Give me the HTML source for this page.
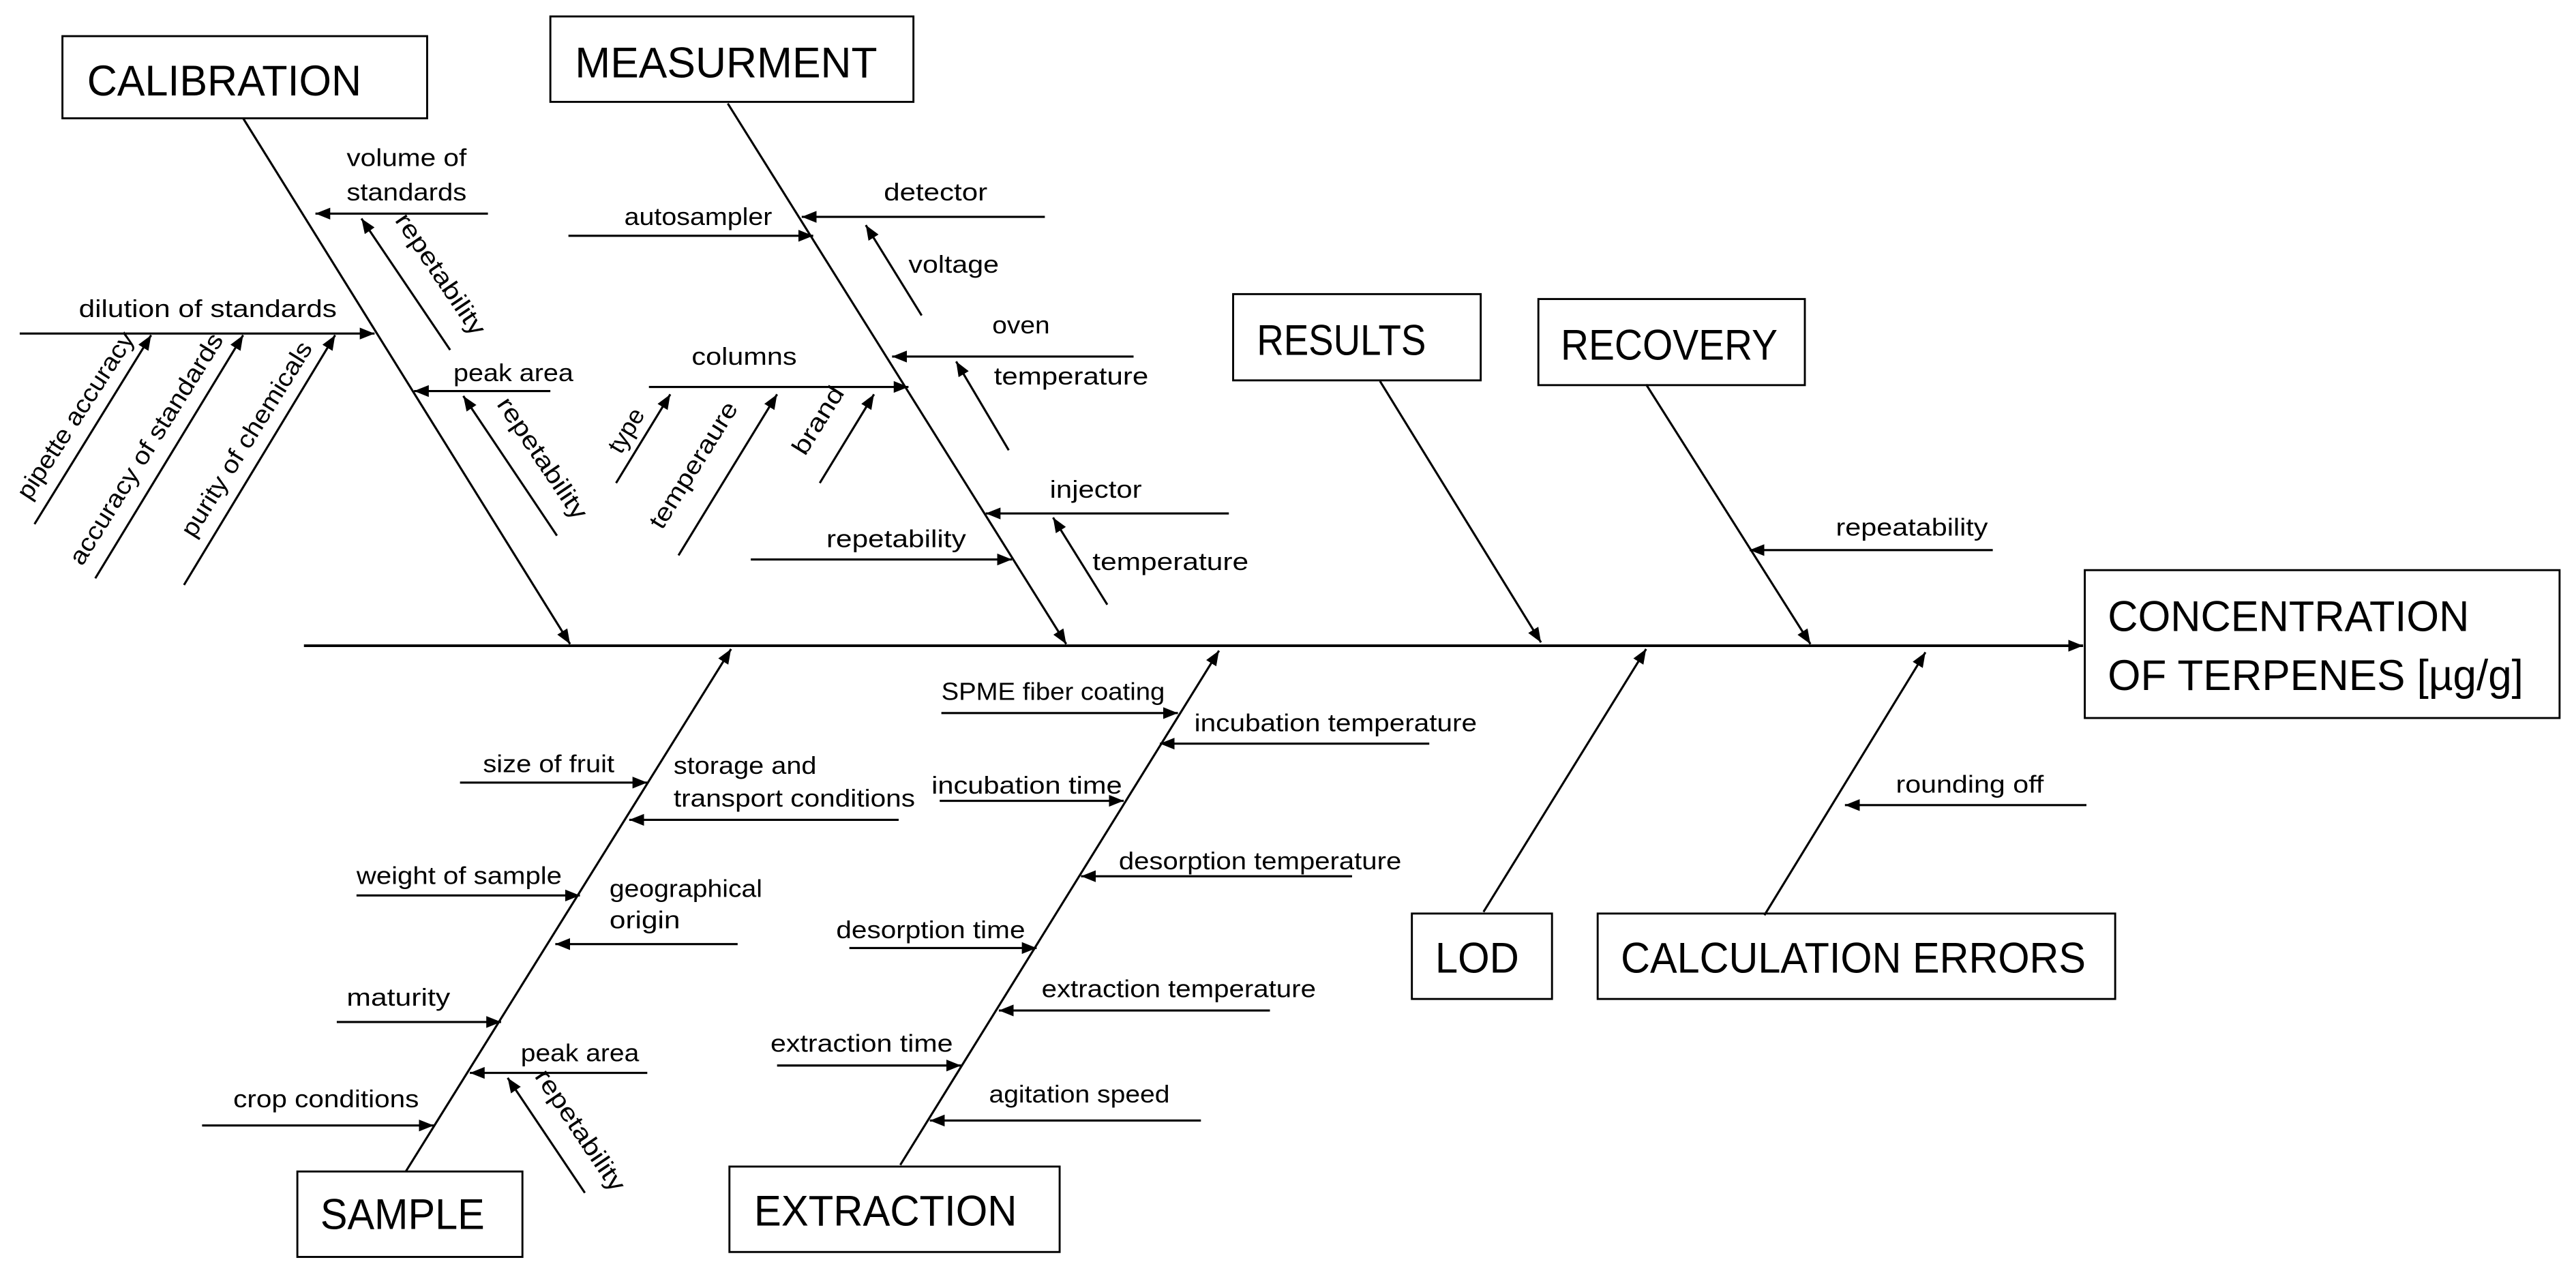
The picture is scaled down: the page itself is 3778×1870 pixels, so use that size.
<!DOCTYPE html>
<html><head><meta charset="utf-8"><style>
html,body{margin:0;padding:0;background:#fff;}
svg{display:block;}
text{font-family:"Liberation Sans Narrow","Liberation Sans",sans-serif;fill:#000;}
.s{font-size:15px;}
.t{font-size:26px;}
</style></head><body>
<svg width="3778" height="1870" viewBox="0 0 1568 776" preserveAspectRatio="none" xmlns="http://www.w3.org/2000/svg">
<defs>
<marker id="a" viewBox="0 0 10 10" refX="10" refY="5" markerWidth="9" markerHeight="9" markerUnits="userSpaceOnUse" orient="auto">
<path d="M0,1 L10,5 L0,9 z" fill="#000"/></marker>
</defs>
<g stroke="#000" stroke-width="1.2" fill="none">
<rect x="38" y="22" width="222" height="50"/>
<rect x="335" y="10" width="221" height="52"/>
<rect x="750.6" y="179" width="150.7" height="52.5"/>
<rect x="936.4" y="182" width="162.2" height="52.4"/>
<rect x="1269" y="347" width="289" height="90"/>
<rect x="859.4" y="556" width="85.3" height="52"/>
<rect x="972.5" y="556" width="315" height="52"/>
<rect x="181" y="713" width="137" height="52"/>
<rect x="444" y="710" width="201" height="52"/>
</g>
<g stroke="#000" stroke-width="1.3" fill="none" marker-end="url(#a)">
<line x1="185" y1="393" x2="1268" y2="393" stroke-width="1.6"/>
<line x1="148" y1="72" x2="347" y2="392"/>
<line x1="443" y1="63" x2="649" y2="392"/>
<line x1="840" y1="232" x2="938" y2="391"/>
<line x1="1002" y1="234" x2="1102" y2="392"/>
<line x1="247" y1="713" x2="445" y2="395"/>
<line x1="548" y1="709" x2="742" y2="396"/>
<line x1="903" y1="555" x2="1002" y2="395"/>
<line x1="1074" y1="557" x2="1172" y2="397"/>
<line x1="297" y1="130" x2="192" y2="130"/>
<line x1="274" y1="213" x2="220" y2="133"/>
<line x1="12" y1="203" x2="228" y2="203"/>
<line x1="21" y1="319" x2="92" y2="204"/>
<line x1="58" y1="352" x2="148" y2="204"/>
<line x1="112" y1="356" x2="204" y2="204"/>
<line x1="335" y1="238" x2="252" y2="238"/>
<line x1="339" y1="326" x2="282" y2="241"/>
<line x1="636" y1="132" x2="488" y2="132"/>
<line x1="346" y1="143.5" x2="495" y2="143.5"/>
<line x1="561" y1="192" x2="527" y2="137"/>
<line x1="690" y1="217" x2="543" y2="217"/>
<line x1="614" y1="274" x2="582" y2="220"/>
<line x1="395" y1="235.5" x2="553" y2="235.5"/>
<line x1="375" y1="294" x2="408" y2="240"/>
<line x1="413" y1="338" x2="473" y2="240"/>
<line x1="499" y1="294" x2="532" y2="240"/>
<line x1="748" y1="312.5" x2="600" y2="312.5"/>
<line x1="674" y1="368" x2="641" y2="315"/>
<line x1="457" y1="340.5" x2="616" y2="340.5"/>
<line x1="1213" y1="334.8" x2="1065" y2="334.8"/>
<line x1="1270" y1="490" x2="1123" y2="490"/>
<line x1="280" y1="476.3" x2="394" y2="476.3"/>
<line x1="547" y1="499" x2="383" y2="499"/>
<line x1="217" y1="545" x2="353" y2="545"/>
<line x1="449" y1="574.6" x2="338" y2="574.6"/>
<line x1="205" y1="622" x2="305" y2="622"/>
<line x1="394" y1="653" x2="286" y2="653"/>
<line x1="356" y1="726" x2="309" y2="656"/>
<line x1="123" y1="685" x2="264" y2="685"/>
<line x1="573" y1="434" x2="717" y2="434"/>
<line x1="870" y1="452.6" x2="706" y2="452.6"/>
<line x1="572" y1="487.4" x2="684" y2="487.4"/>
<line x1="823" y1="533.3" x2="658" y2="533.3"/>
<line x1="517" y1="577" x2="631" y2="577"/>
<line x1="773" y1="615" x2="608" y2="615"/>
<line x1="473" y1="648.5" x2="585" y2="648.5"/>
<line x1="731" y1="682" x2="566" y2="682"/>
</g>
<g>
<text class="t" x="53" y="58" textLength="167" lengthAdjust="spacingAndGlyphs">CALIBRATION</text>
<text class="t" x="350" y="47" textLength="184" lengthAdjust="spacingAndGlyphs">MEASURMENT</text>
<text class="t" x="765" y="216" textLength="103" lengthAdjust="spacingAndGlyphs">RESULTS</text>
<text class="t" x="950" y="219" textLength="132" lengthAdjust="spacingAndGlyphs">RECOVERY</text>
<text class="t" x="1283" y="384" textLength="220" lengthAdjust="spacingAndGlyphs">CONCENTRATION</text>
<text class="t" x="1283" y="420" textLength="253" lengthAdjust="spacingAndGlyphs">OF TERPENES [µg/g]</text>
<text class="t" x="873.6" y="592" textLength="51" lengthAdjust="spacingAndGlyphs">LOD</text>
<text class="t" x="986.6" y="592" textLength="283" lengthAdjust="spacingAndGlyphs">CALCULATION ERRORS</text>
<text class="t" x="195" y="748" textLength="100" lengthAdjust="spacingAndGlyphs">SAMPLE</text>
<text class="t" x="459" y="746" textLength="160" lengthAdjust="spacingAndGlyphs">EXTRACTION</text>
</g>
<g>
<text class="s" x="211" y="101" textLength="73" lengthAdjust="spacingAndGlyphs">volume of</text>
<text class="s" x="211" y="122" textLength="73" lengthAdjust="spacingAndGlyphs">standards</text>
<text class="s" x="48" y="193" textLength="157" lengthAdjust="spacingAndGlyphs">dilution of standards</text>
<text class="s" x="276" y="232" textLength="73" lengthAdjust="spacingAndGlyphs">peak area</text>
<text class="s" x="380" y="137" textLength="90" lengthAdjust="spacingAndGlyphs">autosampler</text>
<text class="s" x="538" y="122" textLength="63" lengthAdjust="spacingAndGlyphs">detector</text>
<text class="s" x="553" y="166" textLength="55" lengthAdjust="spacingAndGlyphs">voltage</text>
<text class="s" x="604" y="203" textLength="35" lengthAdjust="spacingAndGlyphs">oven</text>
<text class="s" x="605" y="234" textLength="94" lengthAdjust="spacingAndGlyphs">temperature</text>
<text class="s" x="421" y="222" textLength="64" lengthAdjust="spacingAndGlyphs">columns</text>
<text class="s" x="639" y="303" textLength="56" lengthAdjust="spacingAndGlyphs">injector</text>
<text class="s" x="503" y="333" textLength="85" lengthAdjust="spacingAndGlyphs">repetability</text>
<text class="s" x="665" y="347" textLength="95" lengthAdjust="spacingAndGlyphs">temperature</text>
<text class="s" x="1117.5" y="326" textLength="92.5" lengthAdjust="spacingAndGlyphs">repeatability</text>
<text class="s" x="1154" y="482.5" textLength="90" lengthAdjust="spacingAndGlyphs">rounding off</text>
<text class="s" x="294" y="470" textLength="80" lengthAdjust="spacingAndGlyphs">size of fruit</text>
<text class="s" x="410" y="471" textLength="87" lengthAdjust="spacingAndGlyphs">storage and</text>
<text class="s" x="410" y="491" textLength="147" lengthAdjust="spacingAndGlyphs">transport conditions</text>
<text class="s" x="217" y="538" textLength="125" lengthAdjust="spacingAndGlyphs">weight of sample</text>
<text class="s" x="371" y="546" textLength="93" lengthAdjust="spacingAndGlyphs">geographical</text>
<text class="s" x="371" y="565" textLength="43" lengthAdjust="spacingAndGlyphs">origin</text>
<text class="s" x="211" y="612" textLength="63" lengthAdjust="spacingAndGlyphs">maturity</text>
<text class="s" x="317" y="646" textLength="72" lengthAdjust="spacingAndGlyphs">peak area</text>
<text class="s" x="142" y="674" textLength="113" lengthAdjust="spacingAndGlyphs">crop conditions</text>
<text class="s" x="573" y="426" textLength="136" lengthAdjust="spacingAndGlyphs">SPME fiber coating</text>
<text class="s" x="727" y="445" textLength="172" lengthAdjust="spacingAndGlyphs">incubation temperature</text>
<text class="s" x="567" y="483" textLength="116" lengthAdjust="spacingAndGlyphs">incubation time</text>
<text class="s" x="681" y="529" textLength="172" lengthAdjust="spacingAndGlyphs">desorption temperature</text>
<text class="s" x="509" y="571" textLength="115" lengthAdjust="spacingAndGlyphs">desorption time</text>
<text class="s" x="634" y="607" textLength="167" lengthAdjust="spacingAndGlyphs">extraction temperature</text>
<text class="s" x="469" y="640" textLength="111" lengthAdjust="spacingAndGlyphs">extraction time</text>
<text class="s" x="602" y="671" textLength="110" lengthAdjust="spacingAndGlyphs">agitation speed</text>
<text class="s" transform="translate(18,305) rotate(-57)" textLength="118" lengthAdjust="spacingAndGlyphs">pipette accuracy</text>
<text class="s" transform="translate(50,345) rotate(-58)" textLength="163" lengthAdjust="spacingAndGlyphs">accuracy of standards</text>
<text class="s" transform="translate(118,328) rotate(-58)" textLength="137" lengthAdjust="spacingAndGlyphs">purity of chemicals</text>
<text class="s" transform="translate(378,277) rotate(-59)" textLength="29" lengthAdjust="spacingAndGlyphs">type</text>
<text class="s" transform="translate(403,323) rotate(-58)" textLength="88" lengthAdjust="spacingAndGlyphs">temperaure</text>
<text class="s" transform="translate(490,278) rotate(-58)" textLength="46" lengthAdjust="spacingAndGlyphs">brand</text>
<text class="s" transform="translate(240,134) rotate(56)" textLength="86" lengthAdjust="spacingAndGlyphs">repetability</text>
<text class="s" transform="translate(302,246) rotate(56)" textLength="86" lengthAdjust="spacingAndGlyphs">repetability</text>
<text class="s" transform="translate(325,655) rotate(56)" textLength="86" lengthAdjust="spacingAndGlyphs">repetability</text>
</g>
</svg>
</body></html>
